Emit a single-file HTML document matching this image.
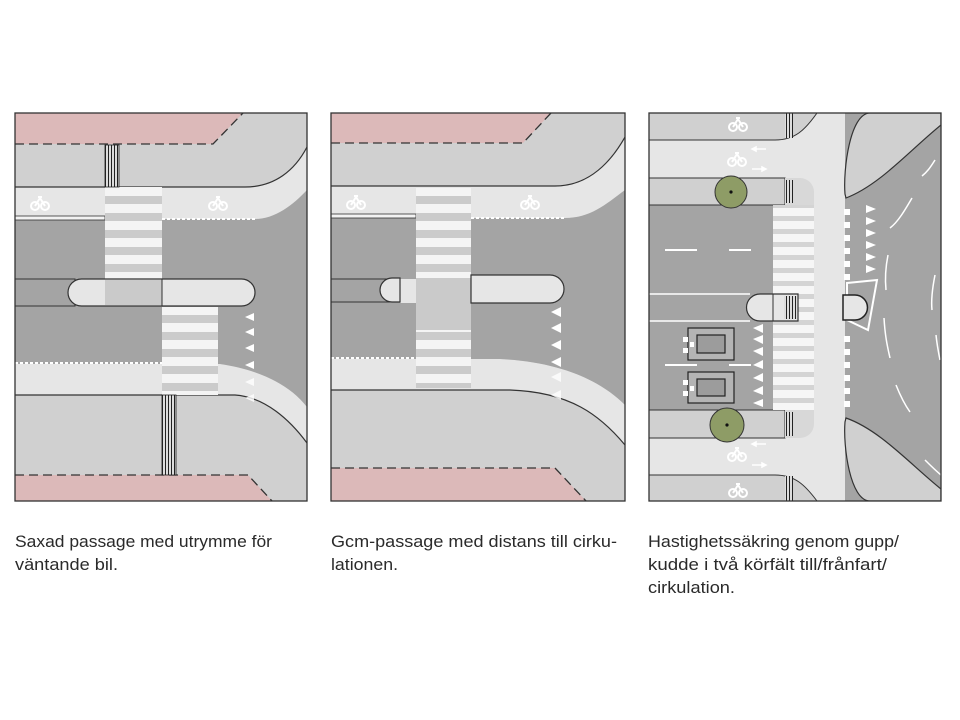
<!DOCTYPE html>
<html><head><meta charset="utf-8"><style>
html,body{margin:0;padding:0;background:#fff;}
svg{display:block;}
text{font-family:"Liberation Sans",sans-serif;fill:#2a2a2a;font-size:17px;}
</style></head><body>
<svg width="960" height="720" viewBox="0 0 960 720" xmlns="http://www.w3.org/2000/svg">
<defs>
<pattern id="zv" x="0" y="0" width="10" height="17" patternUnits="userSpaceOnUse">
<rect width="10" height="17" fill="#cbcbcb"/><rect y="0" width="10" height="9" fill="#f4f4f4"/></pattern>
<pattern id="zh" x="0" y="0" width="10" height="13" patternUnits="userSpaceOnUse">
<rect width="10" height="13" fill="#d4d4d4"/><rect y="0" width="10" height="8" fill="#f6f6f6"/></pattern>
<pattern id="tac" width="3" height="3" patternUnits="userSpaceOnUse"><rect width="3" height="3" fill="#ddd"/><rect width="1" height="3" fill="#222"/></pattern>
<g id="bike" fill="none" stroke="#fff" stroke-width="2"><circle cx="-5" cy="3" r="4"/><circle cx="5" cy="3" r="4"/><path d="M-5,3 L0,-5 L5,3 M-2,-6 L2,-6"/></g>
<clipPath id="c1"><rect x="15" y="113" width="292" height="388"/></clipPath>
<clipPath id="c2"><rect x="331" y="113" width="294" height="388"/></clipPath>
<clipPath id="c3"><rect x="649" y="113" width="292" height="388"/></clipPath>
</defs>

<!-- PANEL 1 -->
<g clip-path="url(#c1)">
<rect x="15" y="113" width="292" height="388" fill="#d0d0d0"/>
<polygon points="15,113 243,113 213,144 15,144" fill="#dcb9b9"/>
<polyline points="15,144 213,144 243,113" fill="none" stroke="#333" stroke-width="1.3" stroke-dasharray="9,5"/>
<polygon points="15,475 248,475 272,501 15,501" fill="#dcb9b9"/>
<polyline points="15,475 248,475 272,501" fill="none" stroke="#333" stroke-width="1.3" stroke-dasharray="9,5"/>
<path d="M15,187 L245,187 C275,187 295,170 307,147 L307,195 C290,210 275,219 255,219 L15,219 Z" fill="#e6e6e6"/>
<path d="M15,187 L245,187 C275,187 295,170 307,147" fill="none" stroke="#333" stroke-width="1.2"/>
<path d="M15,364 L220,364 C260,368 290,385 307,407 L307,443 C290,420 265,397 235,395 L15,395 Z" fill="#e6e6e6"/>
<path d="M15,395 L235,395 C265,397 290,420 307,443" fill="none" stroke="#333" stroke-width="1.2"/>
<path d="M15,219 L255,219 C275,219 293,205 307,190 L307,407 C290,385 260,370 220,364 L15,364 Z" fill="#a4a4a4"/>
<line x1="162" y1="219" x2="255" y2="219" stroke="#fff" stroke-width="2" stroke-dasharray="3,2"/>
<line x1="15" y1="363" x2="162" y2="363" stroke="#fff" stroke-width="2" stroke-dasharray="3,2"/>
<rect x="15" y="216" width="90" height="4" fill="#f2f2f2" stroke="#333" stroke-width="0.8"/>
<rect x="105" y="187" width="57" height="92" fill="url(#zv)"/>
<rect x="162" y="307" width="56" height="88" fill="url(#zv)"/>
<rect x="15" y="279" width="60" height="27" fill="#a4a4a4" stroke="#333" stroke-width="1"/>
<rect x="68" y="279" width="187" height="27" rx="13.5" fill="#e6e6e6" stroke="#333" stroke-width="1.2"/>
<rect x="105" y="280" width="57" height="25" fill="#cacaca"/>
<line x1="162" y1="279" x2="162" y2="306" stroke="#333" stroke-width="1"/>
<g fill="#fff">
<polygon points="245,317 254,313 254,321"/><polygon points="245,332 254,328 254,336"/>
<polygon points="245,348 254,344 254,352"/><polygon points="245,365 254,361 254,369"/>
<polygon points="245,382 254,378 254,386" opacity="0.8"/><polygon points="245,398 254,394 254,402" opacity="0.8"/>
</g>
<rect x="105" y="145" width="14" height="42" fill="url(#tac)" stroke="#222" stroke-width="0.8"/>
<rect x="162" y="395" width="14" height="80" fill="url(#tac)" stroke="#222" stroke-width="0.8"/>
<use href="#bike" x="40" y="203"/>
<use href="#bike" x="218" y="203"/>
</g>
<rect x="15" y="113" width="292" height="388" fill="none" stroke="#333" stroke-width="1.3"/>

<!-- PANEL 2 -->
<g clip-path="url(#c2)">
<rect x="331" y="113" width="294" height="388" fill="#d0d0d0"/>
<polygon points="331,113 551,113 523,143 331,143" fill="#dcb9b9"/>
<polyline points="331,143 523,143 551,113" fill="none" stroke="#333" stroke-width="1.3" stroke-dasharray="9,5"/>
<polygon points="331,468 555,468 586,501 331,501" fill="#dcb9b9"/>
<polyline points="331,468 555,468 586,501" fill="none" stroke="#333" stroke-width="1.3" stroke-dasharray="9,5"/>
<path d="M331,186 L555,186 C590,186 612,160 625,137 L625,190 C605,205 590,218 565,218 L331,218 Z" fill="#e6e6e6"/>
<path d="M331,186 L555,186 C590,186 612,160 625,137" fill="none" stroke="#333" stroke-width="1.2"/>
<path d="M331,359 L500,359 C560,362 600,380 625,405 L625,445 C600,415 570,392 510,390 L331,390 Z" fill="#e6e6e6"/>
<path d="M331,390 L510,390 C570,392 600,415 625,445" fill="none" stroke="#333" stroke-width="1.2"/>
<path d="M331,218 L565,218 C590,218 605,205 625,190 L625,405 C600,380 560,362 500,359 L331,359 Z" fill="#a4a4a4"/>
<line x1="471" y1="218" x2="565" y2="218" stroke="#fff" stroke-width="2" stroke-dasharray="3,2"/>
<line x1="331" y1="358" x2="416" y2="358" stroke="#fff" stroke-width="2" stroke-dasharray="3,2"/>
<rect x="331" y="214" width="85" height="4" fill="#f2f2f2" stroke="#333" stroke-width="0.8"/>
<rect x="416" y="188" width="55" height="200" fill="url(#zv)"/>
<rect x="416" y="278" width="55" height="52" fill="#cacaca"/>
<rect x="400" y="279" width="16" height="24" fill="#e6e6e6"/>
<rect x="331" y="279" width="60" height="23" fill="#a4a4a4" stroke="#333" stroke-width="1"/>
<path d="M400,278 L392,278 A12,12 0 0 0 392,302 L400,302 Z" fill="#e6e6e6" stroke="#333" stroke-width="1.2"/>
<path d="M471,275 L550,275 A14,14 0 0 1 550,303 L471,303 Z" fill="#e6e6e6" stroke="#333" stroke-width="1.2"/>
<g fill="#fff">
<polygon points="551,312 561,307 561,317"/><polygon points="551,328 561,323 561,333"/>
<polygon points="551,345 561,340 561,350"/><polygon points="551,362 561,357 561,367"/>
<polygon points="551,377 561,372 561,382" opacity="0.8"/><polygon points="551,395 561,390 561,400" opacity="0.8"/>
</g>
<use href="#bike" x="356" y="202"/>
<use href="#bike" x="530" y="202"/>
</g>
<rect x="331" y="113" width="294" height="388" fill="none" stroke="#333" stroke-width="1.3"/>

<!-- PANEL 3 -->
<g clip-path="url(#c3)">
<rect x="649" y="113" width="292" height="388" fill="#e6e6e6"/>
<path d="M649,113 L817,113 C805,130 795,140 775,140 L649,140 Z" fill="#d0d0d0" stroke="#333" stroke-width="1"/>
<rect x="649" y="178" width="136" height="27" fill="#d0d0d0" stroke="#333" stroke-width="1"/>
<path d="M785,178 L800,178 A14,14 0 0 1 814,192 L814,205 L785,205 Z" fill="#d8d8d8"/>
<rect x="649" y="410" width="136" height="28" fill="#d0d0d0" stroke="#333" stroke-width="1"/>
<path d="M785,410 L814,410 L814,424 A14,14 0 0 1 800,438 L785,438 Z" fill="#d8d8d8"/>
<path d="M649,475 L775,475 C795,475 805,485 817,501 L649,501 Z" fill="#d0d0d0" stroke="#333" stroke-width="1"/>
<rect x="649" y="205" width="124" height="205" fill="#a4a4a4"/>
<line x1="649" y1="205" x2="785" y2="205" stroke="#333" stroke-width="1"/>
<line x1="649" y1="410" x2="785" y2="410" stroke="#333" stroke-width="1"/>
<rect x="773" y="205" width="41" height="205" fill="url(#zh)"/>
<line x1="665" y1="250" x2="697" y2="250" stroke="#fff" stroke-width="2"/>
<line x1="729" y1="250" x2="751" y2="250" stroke="#fff" stroke-width="2"/>
<line x1="665" y1="365" x2="697" y2="365" stroke="#fff" stroke-width="2"/>
<line x1="729" y1="365" x2="751" y2="365" stroke="#fff" stroke-width="2"/>
<line x1="649" y1="294" x2="750" y2="294" stroke="#fff" stroke-width="1.5"/>
<line x1="649" y1="321" x2="750" y2="321" stroke="#fff" stroke-width="1.5"/>
<path d="M798,294 L760,294 A13.5,13.5 0 0 0 760,321 L798,321 Z" fill="#e6e6e6" stroke="#333" stroke-width="1.2"/>
<line x1="773" y1="294" x2="773" y2="321" stroke="#333" stroke-width="1"/>
<rect x="784" y="296" width="13" height="23" fill="url(#tac)"/>
<rect x="785" y="113" width="8" height="25" fill="url(#tac)"/>
<rect x="785" y="180" width="8" height="23" fill="url(#tac)"/>
<rect x="785" y="412" width="8" height="24" fill="url(#tac)"/>
<rect x="785" y="476" width="8" height="25" fill="url(#tac)"/>
<g stroke="#222" stroke-width="1.2">
<rect x="688" y="328" width="46" height="32" fill="#b4b4b4"/><rect x="697" y="335" width="28" height="18" fill="#9c9c9c"/>
<rect x="688" y="372" width="46" height="31" fill="#b4b4b4"/><rect x="697" y="379" width="28" height="17" fill="#9c9c9c"/>
</g>
<g fill="#fff">
<rect x="683" y="337" width="5" height="5"/><rect x="683" y="348" width="5" height="5"/><rect x="690" y="342" width="4" height="5"/>
<rect x="683" y="380" width="5" height="5"/><rect x="683" y="391" width="5" height="5"/><rect x="690" y="386" width="4" height="5"/>
</g>
<g fill="#fff">
<polygon points="753,328 763,324 763,333"/><polygon points="753,339 763,335 763,344"/>
<polygon points="753,351 763,347 763,356"/><polygon points="753,365 763,360 763,369"/>
<polygon points="753,378 763,373 763,382"/><polygon points="753,391 763,386 763,395"/>
<polygon points="753,403 763,399 763,407"/>
</g>
<circle cx="731" cy="192" r="16" fill="#8e9c66" stroke="#333" stroke-width="1"/><circle cx="731" cy="192" r="1.6" fill="#111"/>
<circle cx="727" cy="425" r="17" fill="#8e9c66" stroke="#333" stroke-width="1"/><circle cx="727" cy="425" r="1.6" fill="#111"/>
<use href="#bike" x="738" y="124"/>
<use href="#bike" x="737" y="159"/>
<use href="#bike" x="737" y="454"/>
<use href="#bike" x="738" y="490"/>
<g stroke="#fff" stroke-width="1.5" fill="#fff">
<line x1="754" y1="149" x2="766" y2="149"/><polygon points="752,149 756,147 756,151"/>
<line x1="752" y1="169" x2="764" y2="169"/><polygon points="766,169 762,167 762,171"/>
<line x1="754" y1="444" x2="766" y2="444"/><polygon points="752,444 756,442 756,446"/>
<line x1="752" y1="465" x2="764" y2="465"/><polygon points="766,465 762,463 762,467"/>
</g>
<rect x="845" y="113" width="96" height="388" fill="#a4a4a4"/>
<path d="M845,194 C843,170 850,113 870,113 L941,113 L941,125 C910,150 880,185 846,198 Z" fill="#d0d0d0" stroke="#333" stroke-width="1.2"/>
<path d="M845,422 C843,446 850,501 870,501 L941,501 L941,489 C910,464 880,430 846,418 Z" fill="#d0d0d0" stroke="#333" stroke-width="1.2"/>
<g fill="#fff">
<rect x="844" y="209" width="6" height="6"/><rect x="844" y="222" width="6" height="6"/><rect x="844" y="235" width="6" height="6"/><rect x="844" y="248" width="6" height="6"/><rect x="844" y="261" width="6" height="6"/><rect x="844" y="274" width="6" height="6"/>
<rect x="844" y="336" width="6" height="6"/><rect x="844" y="349" width="6" height="6"/><rect x="844" y="362" width="6" height="6"/><rect x="844" y="375" width="6" height="6"/><rect x="844" y="388" width="6" height="6"/><rect x="844" y="401" width="6" height="6"/>
<polygon points="866,205 876,209 866,213"/><polygon points="866,217 876,221 866,225"/><polygon points="866,229 876,233 866,237"/><polygon points="866,241 876,245 866,249"/><polygon points="866,253 876,257 866,261"/><polygon points="866,265 876,269 866,273"/>
</g>
<polygon points="847,283 877,280 868,330 847,320" fill="none" stroke="#fff" stroke-width="2"/>
<path d="M843,295 L855,295 A12.5,12.5 0 0 1 855,320 L843,320 Z" fill="#e6e6e6" stroke="#222" stroke-width="1.5"/>
<g fill="none" stroke="#fff" stroke-width="1.5">
<path d="M912,198 C905,210 898,222 890,228"/>
<path d="M935,160 C930,168 927,172 922,176"/>
<path d="M888,255 C885,270 885,280 886,290"/>
<path d="M935,275 C932,290 931,300 932,310"/>
<path d="M884,318 C885,335 887,345 890,358"/>
<path d="M936,335 C937,345 938,350 940,360"/>
<path d="M896,385 C900,395 905,405 910,412"/>
<path d="M925,460 C930,465 935,470 941,475"/>
</g>
</g>
<rect x="649" y="113" width="292" height="388" fill="none" stroke="#333" stroke-width="1.3"/>

<text x="15" y="547" textLength="257" lengthAdjust="spacingAndGlyphs">Saxad passage med utrymme för</text>
<text x="15" y="570" textLength="103" lengthAdjust="spacingAndGlyphs">väntande bil.</text>
<text x="331" y="547" textLength="286" lengthAdjust="spacingAndGlyphs">Gcm-passage med distans till cirku-</text>
<text x="331" y="570" textLength="67" lengthAdjust="spacingAndGlyphs">lationen.</text>
<text x="648" y="547" textLength="251" lengthAdjust="spacingAndGlyphs">Hastighetssäkring genom gupp/</text>
<text x="648" y="570" textLength="239" lengthAdjust="spacingAndGlyphs">kudde i två körfält till/frånfart/</text>
<text x="648" y="593" textLength="87" lengthAdjust="spacingAndGlyphs">cirkulation.</text>
</svg>
</body></html>
